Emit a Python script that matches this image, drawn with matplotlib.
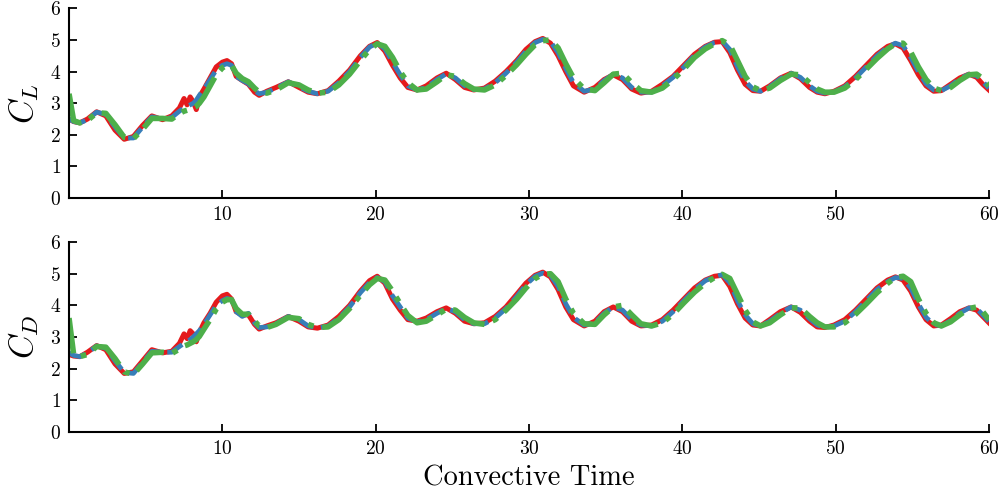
import matplotlib
matplotlib.use("Agg")
import matplotlib.pyplot as plt

plt.rcParams["font.family"] = "serif"
plt.rcParams["font.serif"] = ["cmr10", "DejaVu Serif"]
plt.rcParams["mathtext.fontset"] = "cm"
plt.rcParams["axes.formatter.use_mathtext"] = True

# convective time samples (shared by all series)
t = [0, 0.3, 0.7, 1.2, 1.8, 2.4, 3.0, 3.6, 4.2, 4.8,
     5.4, 6.1, 6.7, 7.2, 7.5, 7.7, 7.9, 8.1, 8.3, 8.5,
     8.8, 9.2, 9.6, 10.0, 10.3, 10.6, 10.9, 11.3, 11.7, 12.1,
     12.4, 12.9, 13.5, 14.3, 15.0, 15.6, 16.2, 16.9, 17.6, 18.3,
     19.0, 19.6, 20.1, 20.6, 21.1, 21.6, 22.1, 22.7, 23.3, 24.0,
     24.6, 25.2, 25.8, 26.4, 27.1, 27.8, 28.5, 29.2, 29.8, 30.4,
     30.9, 31.4, 31.9, 32.4, 32.9, 33.6, 34.3, 34.9, 35.5, 36.1,
     36.7, 37.3, 38.0, 38.7, 39.4, 40.1, 40.8, 41.5, 42.1, 42.6,
     43.1, 43.6, 44.1, 44.6, 45.1, 45.7, 46.4, 47.1, 47.7, 48.3,
     48.8, 49.3, 49.9, 50.6, 51.3, 52.0, 52.7, 53.4, 53.9, 54.4,
     54.9, 55.4, 55.9, 56.4, 56.9, 57.5, 58.1, 58.7, 59.2, 59.6,
     60.0]

# lift coefficient
cl_red = [2.50, 2.42, 2.38, 2.50, 2.73, 2.60, 2.15, 1.86, 1.95, 2.30,
          2.60, 2.48, 2.60, 2.85, 3.15, 2.95, 3.20, 3.05, 2.80, 3.20,
          3.45, 3.80, 4.15, 4.30, 4.35, 4.25, 3.85, 3.72, 3.60, 3.35,
          3.25, 3.38, 3.50, 3.68, 3.50, 3.35, 3.30, 3.40, 3.70, 4.05,
          4.50, 4.80, 4.92, 4.65, 4.20, 3.80, 3.50, 3.42, 3.55, 3.80,
          3.95, 3.75, 3.50, 3.42, 3.48, 3.70, 4.00, 4.35, 4.70, 4.95,
          5.05, 4.90, 4.50, 4.00, 3.55, 3.35, 3.50, 3.75, 3.90, 3.75,
          3.45, 3.32, 3.38, 3.60, 3.85, 4.20, 4.55, 4.80, 4.93, 4.95,
          4.60, 4.05, 3.60, 3.40, 3.38, 3.55, 3.80, 3.95, 3.78, 3.50,
          3.35, 3.30, 3.38, 3.55, 3.85, 4.20, 4.55, 4.80, 4.88, 4.75,
          4.35, 3.90, 3.55, 3.38, 3.40, 3.60, 3.80, 3.92, 3.82, 3.60,
          3.42]
cl_blue = [2.50, 2.42, 2.38, 2.48, 2.72, 2.65, 2.25, 1.90, 1.90, 2.25,
           2.57, 2.50, 2.55, 2.75, 2.85, 2.90, 2.95, 3.00, 3.10, 3.25,
           3.45, 3.75, 4.05, 4.20, 4.25, 4.20, 3.85, 3.72, 3.62, 3.40,
           3.30, 3.35, 3.48, 3.68, 3.52, 3.38, 3.30, 3.38, 3.65, 4.00,
           4.45, 4.78, 4.90, 4.72, 4.30, 3.90, 3.55, 3.42, 3.50, 3.75,
           3.93, 3.80, 3.55, 3.43, 3.45, 3.65, 3.95, 4.30, 4.65, 4.92,
           5.02, 4.95, 4.60, 4.10, 3.65, 3.38, 3.45, 3.72, 3.92, 3.80,
           3.50, 3.35, 3.35, 3.55, 3.82, 4.15, 4.52, 4.78, 4.92, 4.97,
           4.70, 4.15, 3.70, 3.45, 3.38, 3.52, 3.78, 3.95, 3.82, 3.55,
           3.38, 3.32, 3.36, 3.52, 3.80, 4.15, 4.50, 4.78, 4.90, 4.82,
           4.45, 4.00, 3.62, 3.42, 3.40, 3.55, 3.78, 3.92, 3.87, 3.68,
           3.48]
cl_green = [3.30, 2.45, 2.38, 2.45, 2.70, 2.68, 2.32, 1.92, 1.88, 2.18,
            2.52, 2.52, 2.50, 2.68, 2.75, 2.78, 2.82, 2.85, 2.90, 3.00,
            3.20, 3.55, 3.90, 4.12, 4.20, 4.20, 3.95, 3.78, 3.68, 3.48,
            3.35, 3.32, 3.42, 3.65, 3.58, 3.42, 3.32, 3.35, 3.58, 3.92,
            4.35, 4.70, 4.88, 4.80, 4.45, 4.00, 3.65, 3.42, 3.45, 3.68,
            3.90, 3.85, 3.62, 3.45, 3.42, 3.58, 3.88, 4.22, 4.55, 4.85,
            4.98, 5.00, 4.75, 4.25, 3.80, 3.45, 3.40, 3.65, 3.92, 3.95,
            3.65, 3.40, 3.35, 3.48, 3.75, 4.08, 4.45, 4.72, 4.88, 4.98,
            4.85, 4.35, 3.85, 3.52, 3.40, 3.48, 3.72, 3.92, 3.90, 3.65,
            3.45, 3.35, 3.35, 3.48, 3.75, 4.08, 4.42, 4.72, 4.88, 4.90,
            4.62, 4.15, 3.75, 3.48, 3.40, 3.50, 3.72, 3.90, 3.92, 3.78,
            3.55]

# drag coefficient
cd_red = [2.45, 2.40, 2.38, 2.52, 2.73, 2.60, 2.15, 1.85, 1.90, 2.25,
          2.60, 2.50, 2.55, 2.80, 3.10, 2.95, 3.20, 3.10, 2.85, 3.15,
          3.45, 3.75, 4.10, 4.30, 4.35, 4.20, 3.80, 3.70, 3.70, 3.40,
          3.25, 3.35, 3.45, 3.65, 3.50, 3.32, 3.28, 3.38, 3.65, 4.00,
          4.45, 4.78, 4.92, 4.70, 4.20, 3.85, 3.55, 3.50, 3.60, 3.80,
          3.92, 3.75, 3.50, 3.42, 3.45, 3.65, 3.95, 4.35, 4.70, 4.95,
          5.05, 4.90, 4.50, 3.95, 3.55, 3.35, 3.50, 3.80, 3.95, 3.80,
          3.50, 3.35, 3.38, 3.55, 3.85, 4.20, 4.55, 4.80, 4.92, 4.95,
          4.60, 4.05, 3.60, 3.38, 3.35, 3.55, 3.80, 3.95, 3.78, 3.50,
          3.32, 3.30, 3.38, 3.55, 3.85, 4.20, 4.55, 4.80, 4.90, 4.80,
          4.45, 3.95, 3.55, 3.35, 3.38, 3.58, 3.80, 3.92, 3.85, 3.65,
          3.45]
cd_blue = [2.50, 2.42, 2.38, 2.50, 2.72, 2.65, 2.25, 1.88, 1.85, 2.20,
           2.55, 2.52, 2.52, 2.70, 2.80, 2.85, 2.92, 3.00, 3.10, 3.20,
           3.40, 3.70, 4.00, 4.15, 4.22, 4.18, 3.80, 3.65, 3.75, 3.45,
           3.30, 3.32, 3.42, 3.65, 3.55, 3.35, 3.28, 3.35, 3.60, 3.95,
           4.40, 4.72, 4.88, 4.75, 4.30, 3.95, 3.60, 3.48, 3.55, 3.75,
           3.90, 3.80, 3.55, 3.42, 3.42, 3.60, 3.90, 4.28, 4.65, 4.92,
           5.02, 4.95, 4.60, 4.05, 3.62, 3.38, 3.45, 3.75, 3.95, 3.85,
           3.55, 3.38, 3.35, 3.50, 3.80, 4.15, 4.50, 4.78, 4.90, 4.97,
           4.72, 4.15, 3.70, 3.42, 3.35, 3.50, 3.75, 3.95, 3.85, 3.58,
           3.38, 3.30, 3.35, 3.50, 3.80, 4.15, 4.50, 4.75, 4.88, 4.85,
           4.55, 4.05, 3.62, 3.40, 3.35, 3.52, 3.75, 3.92, 3.90, 3.70,
           3.50]
cd_green = [3.60, 2.45, 2.38, 2.45, 2.70, 2.68, 2.32, 1.90, 1.82, 2.15,
            2.50, 2.52, 2.48, 2.62, 2.72, 2.75, 2.80, 2.85, 2.92, 3.02,
            3.25, 3.55, 3.88, 4.10, 4.18, 4.18, 3.90, 3.72, 3.72, 3.50,
            3.35, 3.30, 3.40, 3.62, 3.58, 3.40, 3.30, 3.32, 3.55, 3.90,
            4.32, 4.65, 4.85, 4.80, 4.45, 4.05, 3.68, 3.45, 3.50, 3.70,
            3.88, 3.85, 3.62, 3.45, 3.40, 3.55, 3.85, 4.20, 4.55, 4.85,
            4.98, 5.00, 4.75, 4.20, 3.75, 3.42, 3.40, 3.70, 3.95, 4.00,
            3.70, 3.42, 3.35, 3.45, 3.72, 4.08, 4.42, 4.70, 4.88, 4.98,
            4.85, 4.35, 3.85, 3.48, 3.35, 3.45, 3.70, 3.92, 3.92, 3.65,
            3.45, 3.32, 3.32, 3.45, 3.72, 4.05, 4.40, 4.70, 4.88, 4.92,
            4.75, 4.20, 3.75, 3.45, 3.35, 3.48, 3.70, 3.90, 3.95, 3.80,
            3.55]

x_ticks = [10, 20, 30, 40, 50, 60]
y_ticks = [0, 1, 2, 3, 4, 5, 6]


def style_axis(ax, label):
    ax.set_xlim(0, 60)
    ax.set_ylim(0, 6)
    ax.set_xticks(x_ticks)
    ax.set_yticks(y_ticks)
    ax.spines["top"].set_visible(False)
    ax.spines["right"].set_visible(False)
    ax.spines["left"].set_linewidth(1.5)
    ax.spines["bottom"].set_linewidth(1.5)
    ax.tick_params(direction="in", length=6, width=1.3, labelsize=14, pad=6)
    ax.set_ylabel(label, fontsize=24, labelpad=6)


fig = plt.figure(figsize=(10.05, 4.94), dpi=100)
ax1 = fig.add_axes([0.0687, 0.599, 0.9153, 0.384])
ax2 = fig.add_axes([0.0687, 0.1255, 0.9153, 0.3845])

for ax, red, blue, green, label in [
    (ax1, cl_red, cl_blue, cl_green, "$C_L$"),
    (ax2, cd_red, cd_blue, cd_green, "$C_D$"),
]:
    ax.plot(t, red, color="#e41a1c", lw=3.6, solid_joinstyle="round")
    ax.plot(t, blue, color="#377eb8", lw=3.4, linestyle="--")
    ax.plot(t, green, color="#4daf4a", lw=4.0, linestyle="-.")
    style_axis(ax, label)

ax2.set_xlabel("Convective Time", fontsize=20.5, labelpad=5)

fig.savefig("out.png", dpi=100)
